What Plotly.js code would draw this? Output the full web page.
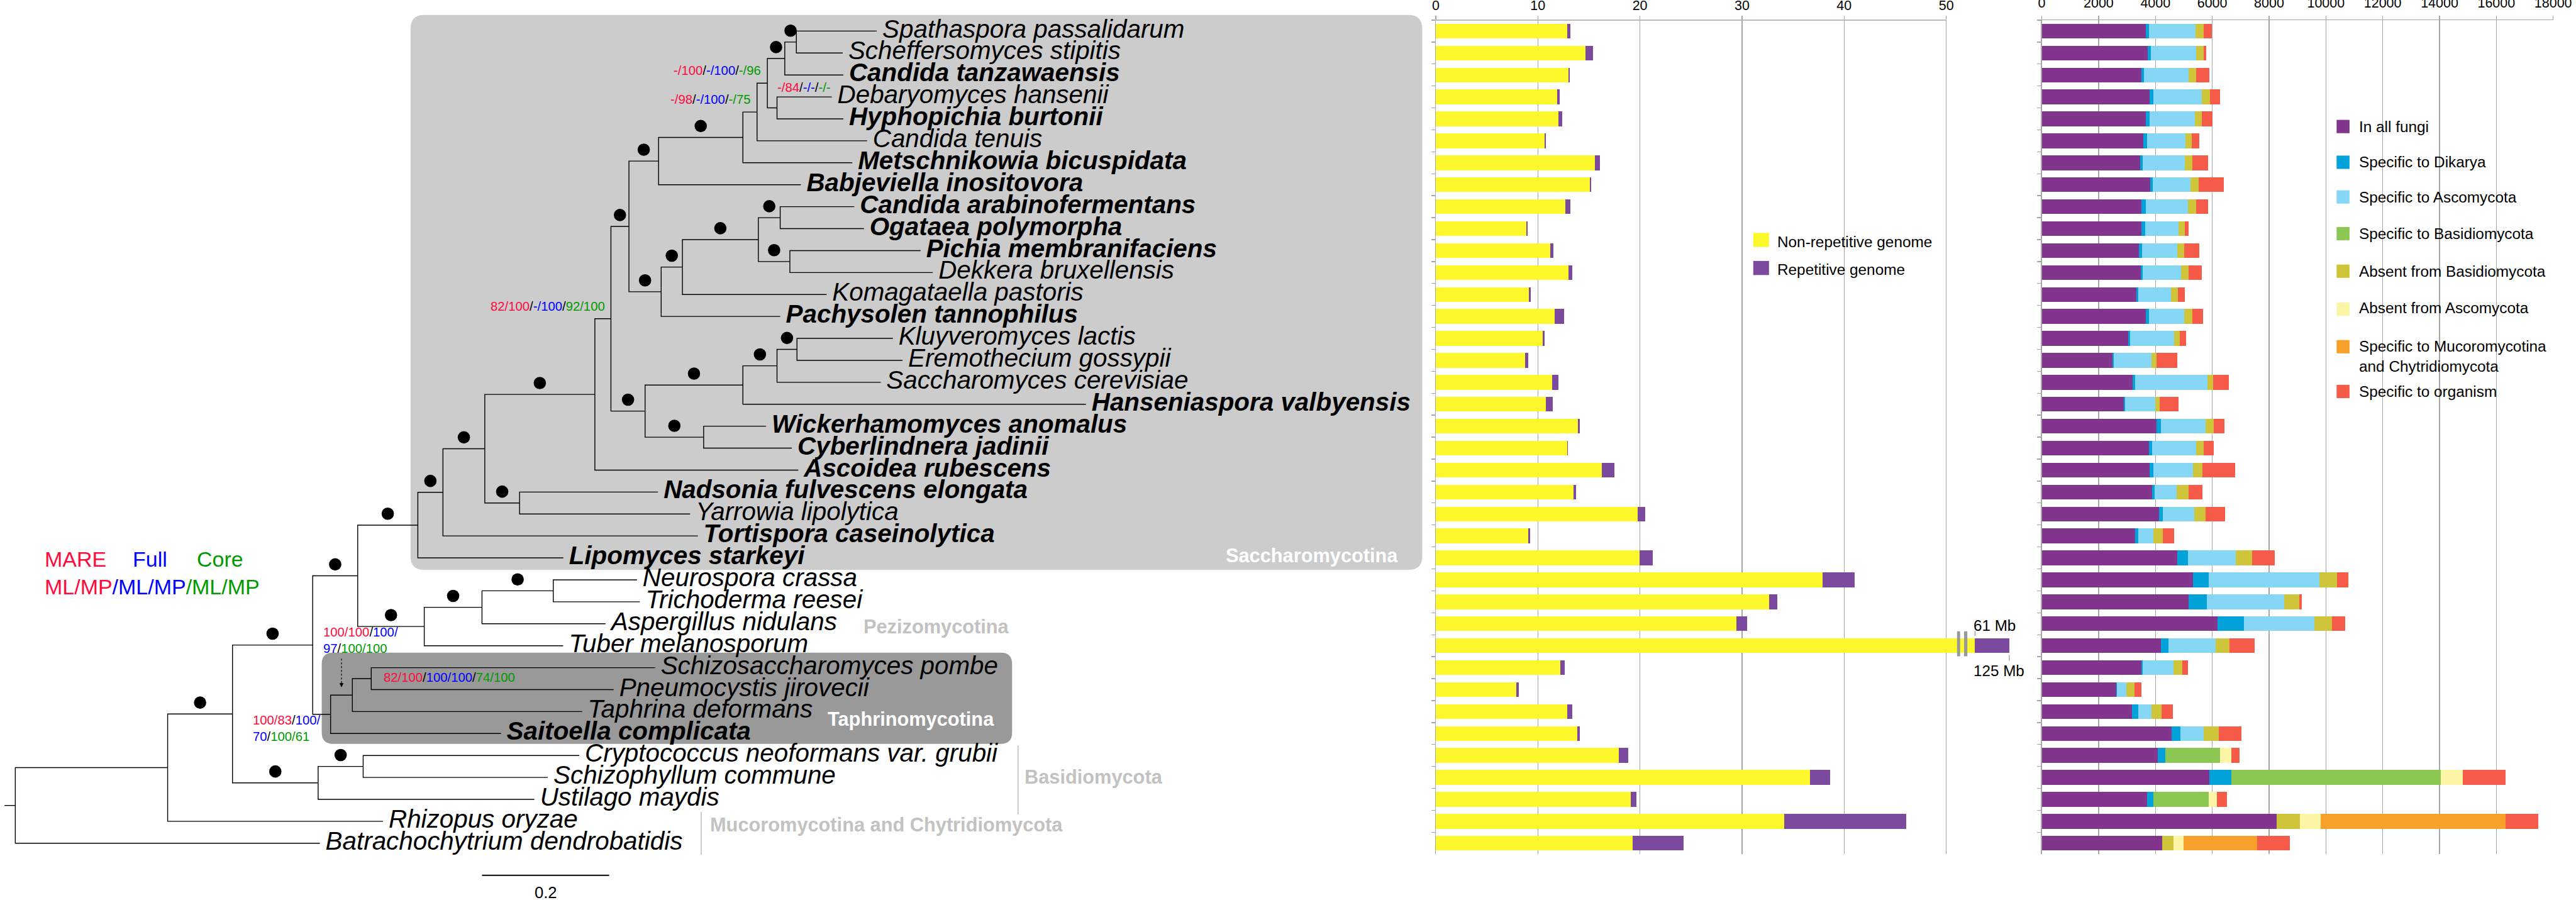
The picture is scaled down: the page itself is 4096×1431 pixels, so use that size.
<!DOCTYPE html>
<html><head><meta charset="utf-8">
<script src="https://cdn.plot.ly/plotly-3.0.1.min.js"></script>
<style>html,body{margin:0;padding:0;background:#fff;overflow:hidden}#chart{width:4096px;height:1431px}</style>
</head><body><div id="chart"></div>
<script>
// ---------------- DATA ----------------
const SPECIES = [
  'Spathaspora passalidarum','Scheffersomyces stipitis','Candida tanzawaensis','Debaryomyces hansenii',
  'Hyphopichia burtonii','Candida tenuis','Metschnikowia bicuspidata','Babjeviella inositovora',
  'Candida arabinofermentans','Ogataea polymorpha','Pichia membranifaciens','Dekkera bruxellensis',
  'Komagataella pastoris','Pachysolen tannophilus','Kluyveromyces lactis','Eremothecium gossypii',
  'Saccharomyces cerevisiae','Hanseniaspora valbyensis','Wickerhamomyces anomalus','Cyberlindnera jadinii',
  'Ascoidea rubescens','Nadsonia fulvescens elongata','Yarrowia lipolytica','Tortispora caseinolytica',
  'Lipomyces starkeyi','Neurospora crassa','Trichoderma reesei','Aspergillus nidulans','Tuber melanosporum',
  'Schizosaccharomyces pombe','Pneumocystis jirovecii','Taphrina deformans','Saitoella complicata',
  'Cryptococcus neoformans var. grubii','Schizophyllum commune','Ustilago maydis','Rhizopus oryzae',
  'Batrachochytrium dendrobatidis'];

const NEW_GENOMES = ['Candida tanzawaensis','Hyphopichia burtonii','Metschnikowia bicuspidata','Babjeviella inositovora',
  'Candida arabinofermentans','Ogataea polymorpha','Pichia membranifaciens','Pachysolen tannophilus',
  'Hanseniaspora valbyensis','Wickerhamomyces anomalus','Cyberlindnera jadinii','Ascoidea rubescens',
  'Nadsonia fulvescens elongata','Tortispora caseinolytica','Lipomyces starkeyi','Saitoella complicata'];

// Newick pieces (branch lengths in substitutions/site; '*' = full support, else ML/MP support for MARE/Full/Core)
const CLADE_CUG = "((((((Spathaspora passalidarum:0.1265,Scheffersomyces stipitis:0.0729)*:0.0182,Candida tanzawaensis:0.0921)*:0.0274,(Debaryomyces hansenii:0.0861,Hyphopichia burtonii:0.1043)-/84/-/-/-/-:0.0152)-/100/-/100/-/96:0.0162,Candida tenuis:0.1731)-/98/-/100/-/75:0.0223,Metschnikowia bicuspidata:0.1721)*:0.1326,Babjeviella inositovora:0.2238)*";
const CLADE_METHYLOTROPHS = "((((Candida arabinofermentans:0.1165,Ogataea polymorpha:0.1317)*:0.0344,(Pichia membranifaciens:0.2055,Dekkera bruxellensis:0.2248)*:0.0496)*:0.1194,Komagataella pastoris:0.2267)*:0.0334,Pachysolen tannophilus:0.1872)*";
const CLADE_SACCHAROMYCETACEAE = "((((Kluyveromyces lactis:0.1508,Eremothecium gossypii:0.1660)*:0.0314,Saccharomyces cerevisiae:0.1630)*:0.0537,Hanseniaspora valbyensis:0.5396)*:0.1538,(Wickerhamomyces anomalus:0.0982,Cyberlindnera jadinii:0.1387)*:0.0921)*";
const CLADE_PEZIZOMYCOTINA = "(((Neurospora crassa:0.1317,Trichoderma reesei:0.1362)*:0.1121,Aspergillus nidulans:0.1943)*:0.0908,Tuber melanosporum:0.2184)*";
const CLADE_TAPHRINOMYCOTINA = "(((Schizosaccharomyces pombe:0.4465,Pneumocystis jirovecii:0.3812)82/100/100/100/74/100:0.0297,Taphrina deformans:0.3614)100/100/100/97/100/100:0.0342,Saitoella complicata:0.2680)100/83/100/70/100/61";
const CLADE_BASIDIOMYCOTA = "((Cryptococcus neoformans var. grubii:0.3399,Schizophyllum commune:0.2904)*:0.0708,Ustilago maydis:0.3401)*";
const CLADE_SACCHAROMYCOTINA = `((((((${CLADE_CUG}:0.0466,${CLADE_METHYLOTROPHS}:0.0507)*:0.0283,${CLADE_SACCHAROMYCETACEAE}:0.0537)82/100/-/100/92/100:0.0253,Ascoidea rubescens:0.3199)*:0.1731,(Nadsonia fulvescens elongata:0.2176,Yarrowia lipolytica:0.2682)*:0.0547)*:0.0658,Tortispora caseinolytica:0.4009)*:0.0395,Lipomyces starkeyi:0.2288)*`;
const TREE_NEWICK = `(((((${CLADE_SACCHAROMYCOTINA}:0.0946,${CLADE_PEZIZOMYCOTINA}:0.1047)*:0.0708,${CLADE_TAPHRINOMYCOTINA}:0.0282)*:0.1261,${CLADE_BASIDIOMYCOTA}:0.1347)*:0.1020,Rhizopus oryzae:0.3387):0.2396,Batrachochytrium dendrobatidis:0.4790):0.017;`;
const SCALE_BAR = 0.2;

// Genome size (Mb)
const NONREP_MB = [12.88,14.68,12.99,11.90,12.04,10.69,15.59,15.12,12.70,8.86,11.24,13.03,9.15,11.64,10.47,8.78,11.42,10.76,13.91,12.85,16.25,13.47,19.80,9.08,19.99,37.88,32.65,29.47,61,12.23,7.87,12.88,13.84,17.94,36.68,19.07,34.11,19.29];
const REP_MB    = [0.30,0.73,0.15,0.25,0.33,0.07,0.48,0.11,0.51,0.11,0.29,0.33,0.15,0.95,0.22,0.26,0.62,0.70,0.22,0.11,1.25,0.26,0.70,0.14,1.24,3.15,0.81,1.02,64,0.40,0.26,0.48,0.29,0.91,1.97,0.59,11.97,5.01];
const GENOME_SERIES = ['Non-repetitive genome','Repetitive genome'];
const TICKS_MB = [0,10,20,30,40,50];

// Gene families (counts)
const GENE_CLASSES = ['In all fungi','Specific to Dikarya','Specific to Ascomycota','Specific to Basidiomycota',
  'Absent from Basidiomycota','Absent from Ascomycota','Specific to Mucoromycotina and Chytridiomycota','Specific to organism'];
const IN_ALL_FUNGI = [3658,3722,3502,3787,3671,3580,3463,3813,3515,3502,3424,3476,3333,3671,3048,2490,3204,2879,4034,3774,3800,3891,4125,3281,4760,5318,5175,6187,4202,3502,2620,3165,4578,4073,5901,3696,8262,4241];
const SPEC_DIKARYA = [116,117,91,130,116,117,78,91,143,130,104,65,65,103,65,39,90,52,168,117,130,91,142,117,376,557,636,934,247,52,26,233,299,272,766,234,0,0];
const SPEC_ASCOMYCOTA = [1635,1596,1582,1725,1609,1362,1492,1323,1491,1180,1232,1362,1142,1232,1556,1323,2529,1064,1557,1544,1401,765,1103,532,1699,3904,2711,2477,1660,1076,324,454,817,0,0,0,0,0];
const SPEC_BASIDIOMYCOTA = [0,0,0,0,0,0,0,0,0,0,0,0,0,0,0,0,0,0,0,0,0,0,0,0,0,0,0,0,0,0,0,0,0,1920,7380,1945,0,0];
const ABSENT_BASIDIOMYCOTA = [286,259,260,286,246,220,259,298,286,233,260,272,259,299,195,195,208,155,285,272,324,428,402,324,571,610,544,609,493,324,298,363,532,0,0,0,830,389];
const ABSENT_ASCOMYCOTA = [0,0,0,0,0,0,0,0,0,0,0,0,0,0,0,0,0,0,0,0,0,0,0,0,0,0,0,0,0,0,0,0,0,402,778,299,726,350];
const SPEC_MUCORO_CHYTRID = [0,0,0,0,0,0,0,0,0,0,0,0,0,0,0,0,0,0,0,0,0,0,0,0,0,0,0,0,0,0,0,0,0,0,0,0,6499,2594];
const SPEC_ORGANISM = [298,104,467,349,363,259,558,882,427,130,531,454,233,376,220,726,558,662,389,337,1141,480,674,402,791,402,78,467,895,182,247,389,804,298,1492,337,1154,1155];
const TICKS_GENES = [0,2000,4000,6000,8000,10000,12000,14000,16000,18000];

// ---------------- STYLE / LAYOUT HELPERS ----------------
const FONT = 'Liberation Sans, Arial, sans-serif';
const S = 0.641;                       // reference -> window scale
const RW = 6381, RH = 2230;            // reference canvas (positions below are in reference px)
const PX = X => X / RW, PY = Y => 1 - Y / RH;
const TREE_X0 = 37.9, TREE_UNIT = 1575; // reference px of root, px per substitution unit
const ROW0 = 77, ROW_H = 54.39;
const tx = X => (X - TREE_X0) / TREE_UNIT;
const ty = Y => (Y - ROW0) / ROW_H;
const RED = '#FF0A3C', BLUE = '#0000FF', GREEN = '#009A00';
const GRID = '#A6A6A6';
const YELLOW = '#FCF82B', PURPLE1 = '#7B4A9F';
const GENE_COLORS = ['#82358D','#00A2D9','#86D7F6','#8CC753','#CFC53B','#FCF5A5','#F8A12A','#F55B48'];

// ---------------- TREE ----------------
function parseNewick(s) {
  let i = 0;
  const tok = () => { let t = ''; while (i < s.length && !',:);('.includes(s[i])) t += s[i++]; return t.trim(); };
  function node() {
    const n = {children: [], label: '', bl: 0};
    if (s[i] === '(') {
      i++; n.children.push(node());
      while (s[i] === ',') { i++; n.children.push(node()); }
      if (s[i] !== ')') throw new Error('Newick: ) expected at ' + i);
      i++;
    }
    n.label = tok();
    if (s[i] === ':') { i++; n.bl = parseFloat(tok()); }
    n.children.forEach(c => c.parent = n);
    return n;
  }
  return node();
}
const root = parseNewick(TREE_NEWICK);
const nodes = [];
(function place(n, depth) {
  n.x = depth; nodes.push(n);
  if (!n.children.length) {
    n.y = SPECIES.indexOf(n.label);
    if (n.y < 0) throw new Error('Unknown leaf ' + n.label);
  } else {
    n.children.forEach(c => place(c, depth + c.bl));
    n.y = (n.children[0].y + n.children[n.children.length - 1].y) / 2;
  }
})(root, 0);

const lx = [], ly = [];
lx.push(-root.bl, 0, null); ly.push(root.y, root.y, null);
nodes.filter(n => n.children.length).forEach(n => {
  const a = n.children[0], b = n.children[n.children.length - 1];
  lx.push(a.x, n.x, n.x, b.x, null); ly.push(a.y, a.y, b.y, b.y, null);
  n.children.slice(1, -1).forEach(c => { lx.push(n.x, c.x, null); ly.push(c.y, c.y, null); });
});
const dotX = [], dotY = [];
nodes.filter(n => n.label === '*').forEach(n => { dotX.push((n.parent.x + n.x) / 2); dotY.push(n.y - 0.52); });

const leaves = nodes.filter(n => !n.children.length);
const leafText = leaves.map(n => NEW_GENOMES.includes(n.label) ? `<b><i>${n.label}</i></b>` : `<i>${n.label}</i>`);

const span = (c, t) => `<span style="color:${c}">${t}</span>`;
function supportHTML(lbl, twoLine) {
  const p = lbl.split('/');
  const r = p.slice(0,2).join('/'), b = p.slice(2,4).join('/'), g = p.slice(4,6).join('/');
  if (!twoLine) return span(RED, r) + '/' + span(BLUE, b) + '/' + span(GREEN, g);
  return span(RED, r) + '/' + span(BLUE, p[2] + '/') + '<br>' + span(BLUE, p[3]) + '/' + span(GREEN, g);
}
const annotations = [];
const shapes = [];
const SUP_FS = 31.7 * S;
nodes.filter(n => n.children.length && n.label && n.label !== '*').forEach(n => {
  const base = {xref:'x', yref:'y', showarrow:false, font:{family:FONT, size:SUP_FS, color:'#000'}, align:'left'};
  if (n.label === '-/84/-/-/-/-') {
    annotations.push({...base, text: supportHTML(n.label), x: n.x - 3 / TREE_UNIT, y: n.children[0].y - 0.44, xanchor:'left', yanchor:'middle'});
  } else if (n.label === '82/100/100/100/74/100') {
    annotations.push({...base, text: supportHTML(n.label), x: n.x + 27 / TREE_UNIT, y: n.y - 0.06, xanchor:'left', yanchor:'middle'});
  } else if (n.label === '100/100/100/97/100/100') {
    annotations.push({...base, text: supportHTML(n.label, true), x: n.parent.x - 22 / TREE_UNIT, y: n.y - 2.5, xanchor:'left', yanchor:'middle'});
    const mx = (n.parent.x + n.x) / 2;
    shapes.push({type:'line', xref:'x', yref:'y', x0: mx, x1: mx, y0: n.y - 1.66, y1: n.y - 0.45, line:{color:'#000', width:1.2, dash:'dot'}});
    annotations.push({xref:'x', yref:'y', axref:'pixel', ayref:'pixel', x: mx, y: n.y - 0.36, ax: 0, ay: -8, text:'', showarrow:true, arrowhead:2, arrowsize:1, arrowwidth:1.3, arrowcolor:'#000'});
  } else if (n.label === '100/83/100/70/100/61') {
    annotations.push({...base, text: supportHTML(n.label, true), x: n.parent.x - 152 / TREE_UNIT, y: n.y + 0.65, xanchor:'left', yanchor:'middle'});
  } else {
    annotations.push({...base, text: supportHTML(n.label), x: n.x - 12 / TREE_UNIT, y: n.y - 0.58, xanchor:'right', yanchor:'middle'});
  }
});

// clade boxes
function rrPath(x0, y0, x1, y1, r) {
  const p = (X, Y) => `${PX(X)},${PY(Y)}`;
  return `M ${p(x0+r,y0)} L ${p(x1-r,y0)} Q ${p(x1,y0)} ${p(x1,y0+r)} L ${p(x1,y1-r)} Q ${p(x1,y1)} ${p(x1-r,y1)} L ${p(x0+r,y1)} Q ${p(x0,y1)} ${p(x0,y1-r)} L ${p(x0,y0+r)} Q ${p(x0,y0)} ${p(x0+r,y0)} Z`;
}
shapes.push({type:'path', xref:'paper', yref:'paper', path: rrPath(1017, 37, 3523, 1412, 34), fillcolor:'#CCCCCC', line:{width:0}, layer:'below'});
shapes.push({type:'path', xref:'paper', yref:'paper', path: rrPath(797, 1617, 2507, 1843, 28), fillcolor:'#999999', line:{width:0}, layer:'below'});
shapes.push({type:'line', xref:'paper', yref:'paper', x0:PX(2522), x1:PX(2522), y0:PY(1847), y1:PY(2018), line:{color:'#CCCCCC', width:2}});
shapes.push({type:'line', xref:'paper', yref:'paper', x0:PX(1737), x1:PX(1737), y0:PY(2012), y1:PY(2118), line:{color:'#CCCCCC', width:2}});
// scale bar
const sb0 = tx(1194);
shapes.push({type:'line', xref:'x', yref:'y', x0: sb0, x1: sb0 + SCALE_BAR, y0: ty(2169), y1: ty(2169), line:{color:'#000', width:2}});
annotations.push({xref:'x', yref:'y', x: sb0 + SCALE_BAR/2, y: ty(2212), text: String(SCALE_BAR), showarrow:false, font:{family:FONT, size:40*S, color:'#000'}});

const CLADE_FS = 48 * S;
const cladeLabel = (t, X, Y, col) => annotations.push({xref:'paper', yref:'paper', x:PX(X), y:PY(Y), text:`<b>${t}</b>`, showarrow:false, font:{family:FONT, size:CLADE_FS, color:col}});
cladeLabel('Saccharomycotina', 3250, 1377, '#FFFFFF');
cladeLabel('Taphrinomycotina', 2256, 1813, '#FFFFFF');
cladeLabel('Pezizomycotina', 2319, 1583, '#C2C2C2');
cladeLabel('Basidiomycota', 2709, 1955, '#C2C2C2');
cladeLabel('Mucoromycotina and Chytridiomycota', 2196, 2074, '#C2C2C2');

// support legend
const LEG_FS = 53 * S;
const legTxt = (t, X, Y) => annotations.push({xref:'paper', yref:'paper', x:PX(X), y:PY(Y), xanchor:'left', yanchor:'middle', text:t, showarrow:false, font:{family:FONT, size:LEG_FS, color:'#000'}});
legTxt(span(RED,'MARE'), 108, 1386);
legTxt(span(BLUE,'Full'), 325, 1386);
legTxt(span(GREEN,'Core'), 484, 1386);
legTxt(span(RED,'ML/MP') + span(BLUE,'/ML/MP') + span(GREEN,'/ML/MP'), 108, 1454);

// ---------------- BARS ----------------
const AXIS_MAX_MB = 50, BREAK_RESUME = 52.82, BREAK_VALUE = 61, BREAK_SCALE = 0.0525;
const brokenAxis = v => v <= AXIS_MAX_MB ? v : BREAK_RESUME + (v - BREAK_VALUE) * BREAK_SCALE;
const nonrepDisp = NONREP_MB.map(brokenAxis);
const repDisp = NONREP_MB.map((v, i) => brokenAxis(v + REP_MB[i]) - brokenAxis(v));

const traces = [];
traces.push({type:'scatter', mode:'lines', x:lx, y:ly, xaxis:'x', yaxis:'y', line:{color:'#000', width:1.4}, hoverinfo:'skip', showlegend:false});
traces.push({type:'scatter', mode:'markers', x:dotX, y:dotY, xaxis:'x', yaxis:'y', marker:{color:'#000', size:30.6*S, line:{width:0}}, hoverinfo:'skip', showlegend:false});
traces.push({type:'scatter', mode:'text', x: leaves.map(n => n.x + 14 / TREE_UNIT), y: leaves.map(n => n.y), text: leafText,
  textposition:'middle right', textfont:{family:FONT, size:63*S, color:'#000'}, xaxis:'x', yaxis:'y', hoverinfo:'skip', showlegend:false});

[nonrepDisp, repDisp].forEach((arr, k) => traces.push({type:'bar', orientation:'h', name:GENOME_SERIES[k], x:arr, y:SPECIES,
  xaxis:'x2', yaxis:'y2', marker:{color:[YELLOW, PURPLE1][k], line:{width:0}}, hoverinfo:'skip', showlegend:false}));
[IN_ALL_FUNGI, SPEC_DIKARYA, SPEC_ASCOMYCOTA, SPEC_BASIDIOMYCOTA, ABSENT_BASIDIOMYCOTA, ABSENT_ASCOMYCOTA, SPEC_MUCORO_CHYTRID, SPEC_ORGANISM]
  .forEach((arr, k) => traces.push({type:'bar', orientation:'h', name:GENE_CLASSES[k], x:arr, y:SPECIES,
  xaxis:'x3', yaxis:'y3', marker:{color:GENE_COLORS[k], line:{width:0}}, hoverinfo:'skip', showlegend:false}));

// broken-axis decoration for the one oversized genome
const ti = NONREP_MB.findIndex(v => v > AXIS_MAX_MB);
[[51.06, 51.36], [51.75, 52.07]].forEach(([a, b]) => shapes.push({type:'rect', xref:'x2', yref:'y2', x0:a, x1:b, y0:ti - 0.66, y1:ti + 0.48, fillcolor:'#999999', line:{width:0}}));
const xNon = brokenAxis(NONREP_MB[ti]), xTot = brokenAxis(NONREP_MB[ti] + REP_MB[ti]);
shapes.push({type:'line', xref:'x2', yref:'y2', x0:xNon, x1:xNon, y0:ti - 0.68, y1:ti - 0.44, line:{color:'#999999', width:1.3}});
shapes.push({type:'line', xref:'x2', yref:'y2', x0:xTot, x1:xTot, y0:ti + 0.42, y1:ti + 0.68, line:{color:'#999999', width:1.3}});
const MB_FS = 37.8 * S;
annotations.push({xref:'x2', yref:'y2', x:52.55, y:ti - 0.93, xanchor:'left', yanchor:'middle', text:`${NONREP_MB[ti]} Mb`, showarrow:false, font:{family:FONT, size:MB_FS, color:'#000'}});
annotations.push({xref:'x2', yref:'y2', x:52.55, y:ti + 1.14, xanchor:'left', yanchor:'middle', text:`${NONREP_MB[ti] + REP_MB[ti]} Mb`, showarrow:false, font:{family:FONT, size:MB_FS, color:'#000'}});
// top axis line of the Mb panel stops at the last tick (the axis continues past the break only for that bar)
shapes.push({type:'line', xref:'x2', yref:'paper', x0:0, x1:AXIS_MAX_MB, y0:PY(49.8), y1:PY(49.8), line:{color:GRID, width:1.4}});

// legends (drawn as swatches + text)
const BL_FS = 38 * S;
function legendItem(name, color, sx0, sx1, sy, sh, tx0, tyc) {
  shapes.push({type:'rect', xref:'paper', yref:'paper', x0:PX(sx0), x1:PX(sx1), y0:PY(sy - sh/2), y1:PY(sy + sh/2), fillcolor:color, line:{width:0}});
  annotations.push({xref:'paper', yref:'paper', x:PX(tx0), y:PY(tyc), xanchor:'left', yanchor:'middle', align:'left', text:name.replace(' and ', '<br>and '), showarrow:false, font:{family:FONT, size:BL_FS, color:'#000'}});
}
[594.5, 664].forEach((yc, k) => legendItem(GENOME_SERIES[k], [YELLOW, PURPLE1][k], 4343, 4382, yc, 35, 4400, yc + 4));
const L2Y = [313.5, 402, 488, 579, 672, 766, 859, 970], L2T = [314, 402, 489, 579, 673, 763, 883, 970];
GENE_CLASSES.forEach((g, k) => legendItem(g, GENE_COLORS[k], 5788, 5820, L2Y[k], 33, 5841, L2T[k]));

// ---------------- LAYOUT ----------------
const barX = (dom, range, tickvals, standoff, showline) => ({domain:dom, range:range, side:'top', tickmode:'array', tickvals:tickvals,
  ticktext: tickvals.map(String),
  ticks:'outside', ticklen:9*S, tickwidth:1.4, tickcolor:GRID, showline:showline, linecolor:GRID, linewidth:1.4,
  showgrid:true, gridcolor:GRID, gridwidth:1.4, zeroline:false, fixedrange:true, ticklabelstandoff:standoff,
  tickfont:{family:FONT, size:33.5*S, color:'#000'}});
const barY = (anchor) => ({domain:[PY(2116.6), PY(49.8)], type:'category', categoryorder:'array', categoryarray:SPECIES,
  range:[37.5, -0.5], anchor:anchor, showline:true, linecolor:GRID, linewidth:1.4, ticks:'outside', tickson:'boundaries',
  tickmode:'linear', tick0:0, dtick:1, ticklen:9*S, tickwidth:1.4, tickcolor:GRID, showticklabels:false, showgrid:false, zeroline:false, fixedrange:true});

const MB_PX = (4821 - 3556.5) / 50;   // reference px per Mb
const MB_RANGE_MAX = 57;               // room for the broken bar beyond the last tick
const layout = {
  width:4096, height:1431, margin:{l:0, r:0, t:0, b:0, pad:0},
  paper_bgcolor:'#FFFFFF', plot_bgcolor:'rgba(0,0,0,0)', showlegend:false, hovermode:false,
  barmode:'stack', bargap:0.33, font:{family:FONT},
  xaxis:{domain:[0,1], range:[tx(0), tx(RW)], visible:false, fixedrange:true},
  yaxis:{domain:[0,1], range:[ty(RH), ty(0)], visible:false, fixedrange:true},
  xaxis2:{...barX([PX(3556.5), PX(3556.5 + MB_RANGE_MAX * MB_PX)], [0, MB_RANGE_MAX], TICKS_MB, 1, false), anchor:'y2'},
  yaxis2:barY('x2'),
  xaxis3:{...barX([PX(5057.7), PX(6324.4)], [0, 18000], TICKS_GENES, 4, true), anchor:'y3'},
  yaxis3:barY('x3'),
  shapes:shapes, annotations:annotations
};
Plotly.newPlot('chart', traces, layout, {staticPlot:true});
</script></body></html>
